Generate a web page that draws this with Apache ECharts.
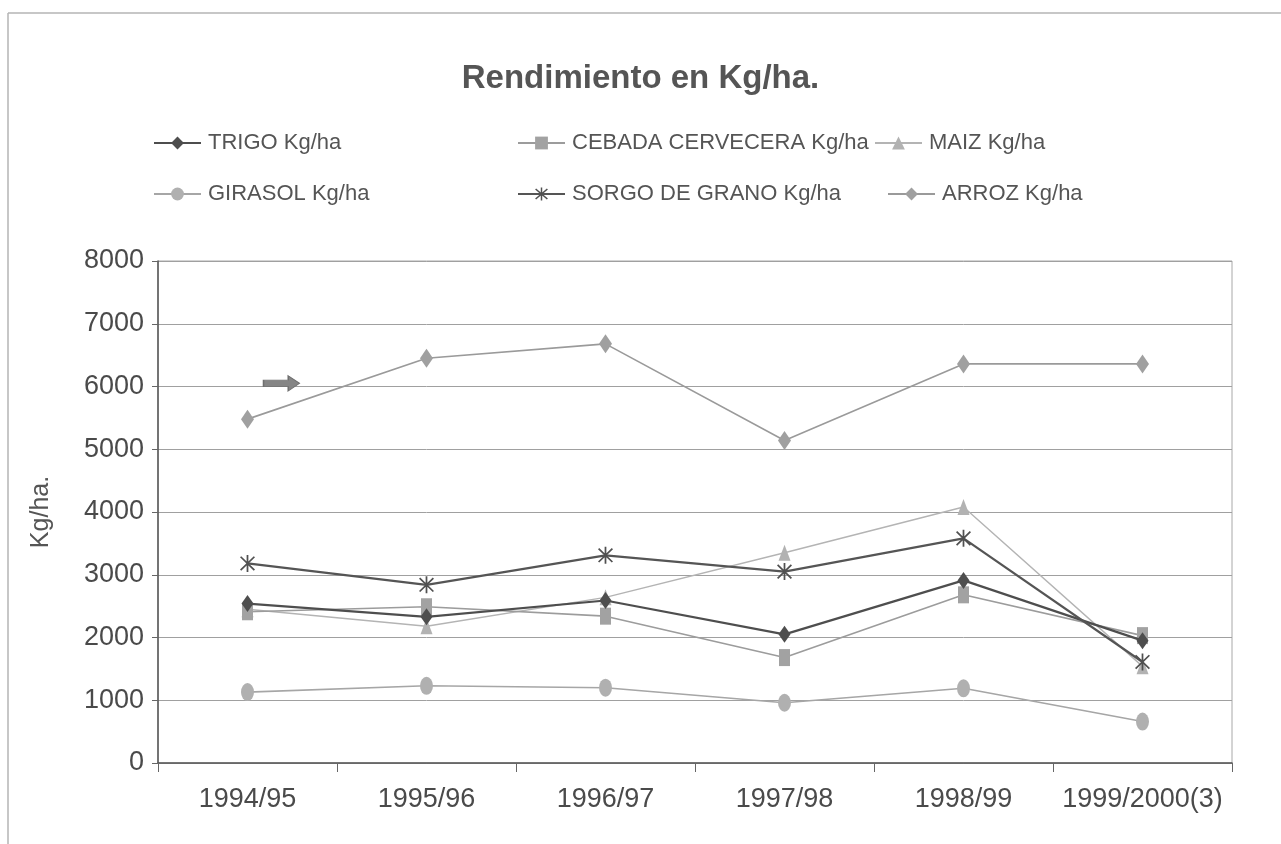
<!DOCTYPE html>
<html>
<head>
<meta charset="utf-8">
<title>Rendimiento en Kg/ha.</title>
<script src="https://cdn.jsdelivr.net/npm/echarts@6/dist/echarts.min.js"></script>
<style>
  html, body { margin: 0; padding: 0; background: #ffffff; }
  #chart { width: 1281px; height: 844px; }
</style>
</head>
<body>
<div id="chart"></div>
<script>
// Campaign years (x axis)
const campaigns = ['1994/95', '1995/96', '1996/97', '1997/98', '1998/99', '1999/2000(3)'];

// Yield per crop, Kg/ha
const trigo   = [2540, 2330, 2590, 2050, 2910, 1950];
const cebada  = [2410, 2490, 2340, 1680, 2680, 2030];
const maiz    = [2450, 2180, 2640, 3350, 4080, 1540];
const girasol = [1130, 1230, 1200,  960, 1190,  660];
const sorgo   = [3180, 2840, 3310, 3050, 3580, 1610];
const arroz   = [5480, 6450, 6680, 5140, 6360, 6360];

// Series names as shown in the legend
const seriesNames = [
  'TRIGO Kg/ha', 'CEBADA CERVECERA Kg/ha', 'MAIZ Kg/ha',
  'GIRASOL Kg/ha', 'SORGO DE GRANO Kg/ha', 'ARROZ Kg/ha'
];

// Y axis ticks
const yMin = 0, yMax = 8000, yStep = 1000;

// Block arrow pointing at the rice line
const arrowAt = { category: '1994/95', value: 6050 };

const FONT = "'Liberation Sans', Arial, sans-serif";

// Asterisk marker: vertical bar plus two diagonals
const asteriskPath = 'path://M9,0 L11,0 L11,20 L9,20 Z ' +
  'M1.4,2.8 L2.8,1.4 L18.6,17.2 L17.2,18.6 Z ' +
  'M17.2,1.4 L18.6,2.8 L2.8,18.6 L1.4,17.2 Z';
const arrowPath = 'path://M0,4 L22,4 L22,0 L32,7 L22,14 L22,10 L0,10 Z';

function lineSeries(name, data, opt) {
  return Object.assign({
    name: name,
    type: 'line',
    data: data,
    symbolKeepAspect: false,
    showAllSymbol: true,
    animation: false,
    emphasis: { disabled: true }
  }, opt);
}

const series = [
  lineSeries(seriesNames[0], trigo, {
    symbol: 'diamond', symbolSize: [12, 17], z: 6,
    lineStyle: { color: '#4e4e4e', width: 2.2 },
    itemStyle: { color: '#4e4e4e' }
  }),
  lineSeries(seriesNames[1], cebada, {
    symbol: 'rect', symbolSize: [11, 17], z: 5,
    lineStyle: { color: '#9c9c9c', width: 1.6 },
    itemStyle: { color: '#a2a2a2' }
  }),
  lineSeries(seriesNames[2], maiz, {
    symbol: 'triangle', symbolSize: [12, 16], z: 4,
    lineStyle: { color: '#b4b4b4', width: 1.4 },
    itemStyle: { color: '#b2b2b2' }
  }),
  lineSeries(seriesNames[3], girasol, {
    symbol: 'circle', symbolSize: [13, 18], z: 3,
    lineStyle: { color: '#a6a6a6', width: 1.6 },
    itemStyle: { color: '#b0b0b0' }
  }),
  lineSeries(seriesNames[4], sorgo, {
    symbol: asteriskPath, symbolSize: [15, 17], z: 7,
    lineStyle: { color: '#555555', width: 2.2 },
    itemStyle: { color: '#505050' }
  }),
  lineSeries(seriesNames[5], arroz, {
    symbol: 'diamond', symbolSize: [13, 19], z: 2,
    lineStyle: { color: '#9a9a9a', width: 1.6 },
    itemStyle: { color: '#a0a0a0' },
    markPoint: {
      silent: true,
      symbol: arrowPath,
      symbolSize: [36, 15],
      symbolOffset: [34, 0],
      itemStyle: { color: '#858585', borderColor: '#6f6f6f', borderWidth: 1 },
      label: { show: false },
      data: [{ coord: [arrowAt.category, arrowAt.value] }]
    }
  })
];

// One legend block per entry so the entries sit in aligned columns
const legendSlots = [
  { left: 153, top: 132 }, { left: 517, top: 132 }, { left: 874, top: 132 },
  { left: 153, top: 183 }, { left: 517, top: 183 }, { left: 887, top: 183 }
];
const legends = seriesNames.map((n, i) => ({
  data: [n],
  left: legendSlots[i].left,
  top: legendSlots[i].top,
  padding: 0,
  itemWidth: 47,
  itemHeight: 16,
  itemGap: 0,
  selectedMode: false,
  textStyle: { fontFamily: FONT, fontSize: 22, color: '#555555', padding: [0, 0, 0, 2] }
}));

const option = {
  backgroundColor: '#ffffff',
  animation: false,
  title: {
    text: 'Rendimiento en Kg/ha.',
    left: 'center',
    top: 57,
    textStyle: { fontFamily: FONT, fontSize: 33, fontWeight: 'bold', color: '#555555' }
  },
  legend: legends,
  grid: {
    left: 158, right: 49, top: 261, bottom: 81,
    show: true, borderColor: '#a8a8a8', borderWidth: 1
  },
  xAxis: {
    type: 'category',
    data: campaigns,
    boundaryGap: true,
    axisLine: { lineStyle: { color: '#555555', width: 1.5 } },
    axisTick: { show: true, length: 9, lineStyle: { color: '#666666' } },
    axisLabel: { fontFamily: FONT, fontSize: 27, color: '#4a4a4a', margin: 23, interval: 0 }
  },
  yAxis: {
    type: 'value',
    min: yMin, max: yMax, interval: yStep,
    name: 'Kg/ha.',
    nameLocation: 'middle',
    nameRotate: 90,
    nameGap: 104,
    nameTextStyle: { fontFamily: FONT, fontSize: 25, color: '#555555' },
    axisLine: { show: true, lineStyle: { color: '#555555', width: 1.5 } },
    axisTick: { show: true, length: 6, lineStyle: { color: '#666666' } },
    axisLabel: {
      fontFamily: FONT, fontSize: 27, color: '#4a4a4a', margin: 14,
      formatter: v => String(v)
    },
    splitLine: { show: true, lineStyle: { color: '#a0a0a0', width: 1 } }
  },
  graphic: [
    // outer chart frame (top and left edges visible)
    { type: 'line', silent: true, shape: { x1: 8, y1: 13, x2: 1281, y2: 13 },
      style: { stroke: '#b4b4b4', lineWidth: 1.5 } },
    { type: 'line', silent: true, shape: { x1: 8, y1: 13, x2: 8, y2: 844 },
      style: { stroke: '#b4b4b4', lineWidth: 1.5 } }
  ],
  series: series
};

const chart = echarts.init(document.getElementById('chart'), null, { renderer: 'canvas' });
chart.setOption(option);
</script>
</body>
</html>
